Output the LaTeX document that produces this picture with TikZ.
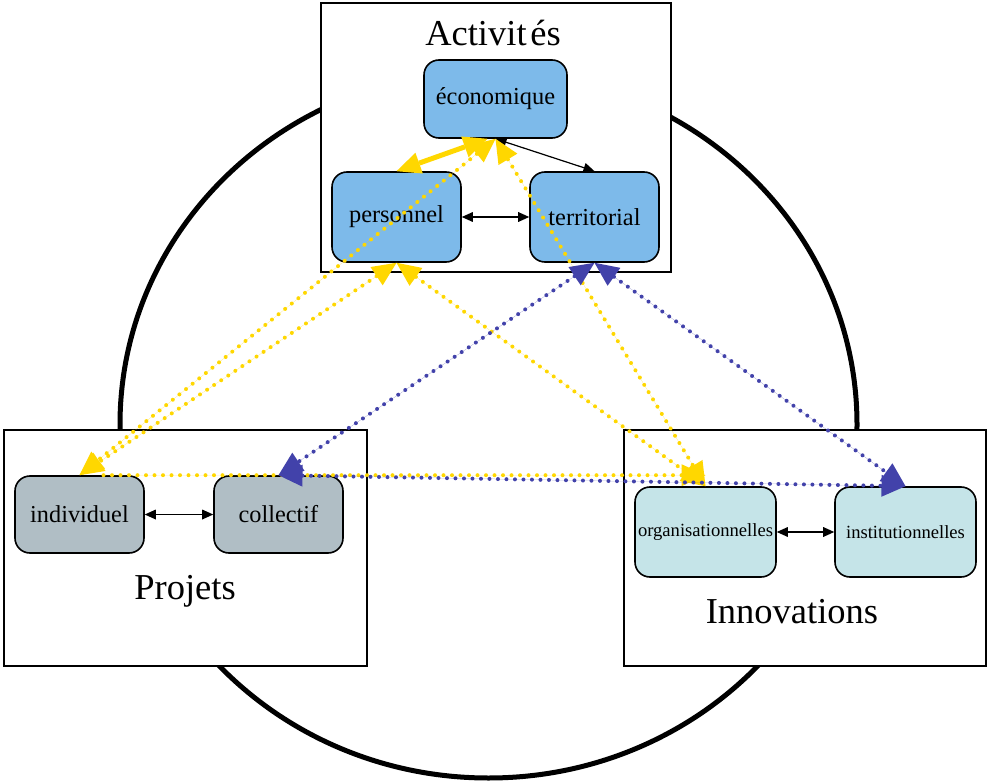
\documentclass[tikz,border=0pt]{standalone}
\usepackage{fontspec}
\setmainfont{Liberation Serif}
\usetikzlibrary{arrows.meta}
\definecolor{gold}{RGB}{255,215,0}
\definecolor{dblue}{RGB}{66,66,170}
\definecolor{actblue}{RGB}{125,186,234}
\definecolor{projgray}{RGB}{176,190,197}
\definecolor{innocyan}{RGB}{197,228,232}
\begin{document}
\begin{tikzpicture}[x=1pt,y=-1pt,
  frame/.style={draw=black, line width=1.4pt, fill=white, inner sep=0pt},
  title/.style={font=\fontsize{36.5}{40}\selectfont, inner sep=0pt},
  box/.style={draw=black, line width=1.6pt, rounded corners=15pt, inner sep=0pt, minimum width=129pt},
  actbox/.style={box, fill=actblue, font=\fontsize{24.4}{28}\selectfont},
  projbox/.style={box, fill=projgray, font=\fontsize{24.3}{28}\selectfont, minimum height=77pt},
  innobox/.style={box, fill=innocyan, font=\fontsize{18.6}{22}\selectfont, minimum width=141pt, minimum height=90pt},
  bigtip/.tip={Triangle[length=24pt,width=22pt,line width=0pt]},
  smalltip/.tip={Triangle[length=11pt,width=10pt,line width=0pt]},
  dotline/.style={line width=4pt, dash pattern=on 0pt off 8.5pt, line cap=round},
  ydot/.style={dotline, draw=gold, fill=gold},
  bdot/.style={dotline, draw=dblue, fill=dblue},
  thin/.style={draw=black, fill=black, line width=1.2pt, smalltip-smalltip},
]
\useasboundingbox (0,0) rectangle (987,783);
% large ellipse
\draw[line width=5pt] (488.5,424.5) ellipse [x radius=368.5pt, y radius=353.5pt];
% frames
\node[frame, minimum width=350pt, minimum height=269pt] (fact) at (496,137.5) {};
\node[frame, minimum width=363pt, minimum height=236pt] (fproj) at (185.5,548) {};
\node[frame, minimum width=362pt, minimum height=236pt] (finno) at (805,548) {};
% titles
\node[title] (tact) at (493,33) {Activit\hspace{0.1em}és};
\node[title] (tproj) at (185,591) {Projets};
\node[title] (tinno) at (792,612) {Innovations};
% nodes
\node[actbox, minimum width=143pt, minimum height=78pt] (eco) at (495.5,99) {économique};
\node[actbox, minimum height=90pt] (pers) at (396.5,217) {personnel};
\node[actbox, minimum height=90pt] (terr) at (594.5,217) {territorial};
\node[projbox] (indiv) at (79.5,514.5) {individuel};
\node[projbox] (coll) at (278.5,514.5) {collectif};
\node[innobox] (orga) at (705.5,532) {organisationnelles};
\node[innobox] (inst) at (905.5,532) {institutionnelles};
% black arrows
\draw[thin] (eco.south) -- (terr.north);
\draw[thin] (pers.east) -- (terr.west);
\draw[thin] (indiv.east) -- (coll.west);
\draw[thin] (orga.east) -- (inst.west);
% yellow connectors
\draw[draw=gold, fill=gold, line width=5pt, bigtip-bigtip] ([xshift=-8pt]eco.south) -- (pers.north);
\draw[ydot, bigtip-bigtip] (eco.south) -- (indiv.north);
\draw[ydot, bigtip-bigtip] (pers.south) -- (indiv.north);
\draw[ydot, bigtip-bigtip] (pers.south) -- (orga.north);
\draw[ydot, bigtip-bigtip] (eco.south) -- (orga.north);
\coordinate (oend) at ([yshift=11pt]orga.north);
\draw[ydot, -bigtip] ([xshift=24pt]indiv.north) -- (oend);
% blue connectors
\draw[bdot, bigtip-bigtip] (terr.south) -- (coll.north);
\draw[bdot, bigtip-bigtip] (terr.south) -- (inst.north);
\draw[bdot, bigtip-bigtip] (coll.north) -- (inst.north);
\end{tikzpicture}
\end{document}
